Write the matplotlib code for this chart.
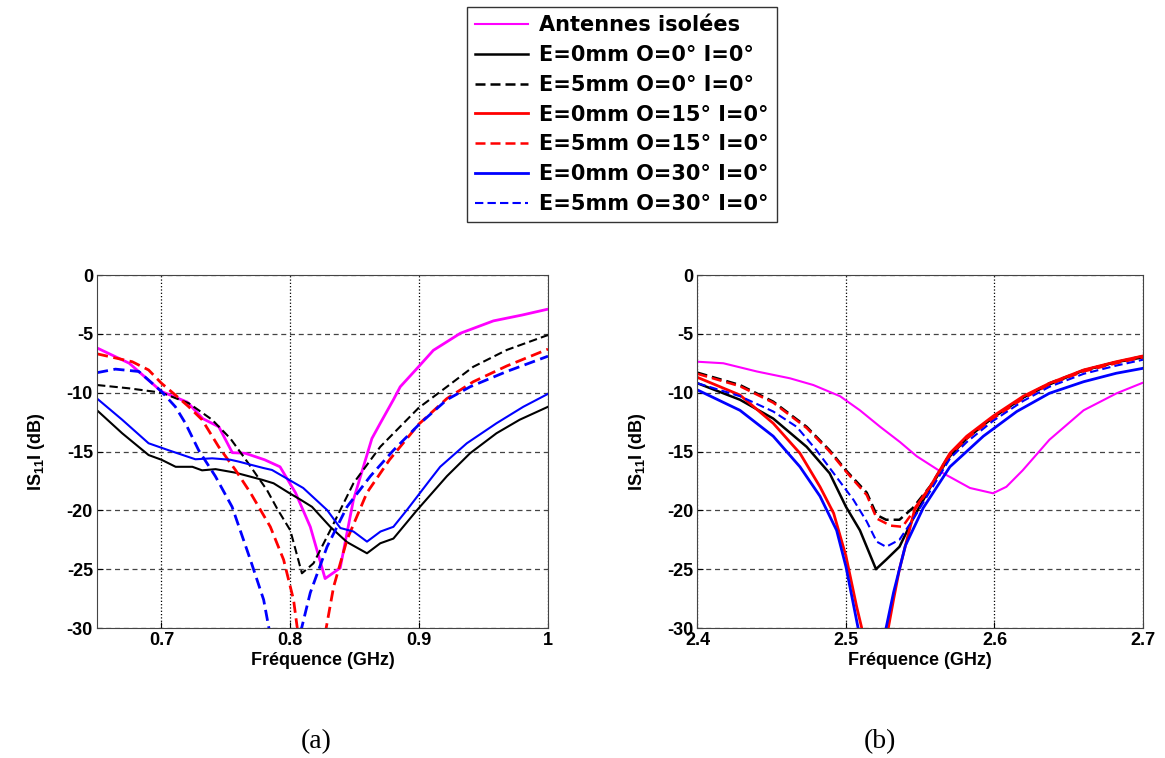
import matplotlib
matplotlib.use("Agg")
import matplotlib.pyplot as plt

# polices : texte gras type Arial, légende plus large
plt.rcParams["font.family"] = "Liberation Sans"
plt.rcParams["axes.unicode_minus"] = False
plt.rcParams["mathtext.fontset"] = "custom"
plt.rcParams["mathtext.rm"] = "Liberation Sans:bold"
plt.rcParams["mathtext.bf"] = "Liberation Sans:bold"

labels = ["Antennes isolées", "E=0mm O=0° I=0°", "E=5mm O=0° I=0°",
          "E=0mm O=15° I=0°", "E=5mm O=15° I=0°",
          "E=0mm O=30° I=0°", "E=5mm O=30° I=0°"]

# ---- bande basse (a) ----
iso_a_f = [0.65, 0.675, 0.70, 0.72, 0.732, 0.7445, 0.755, 0.765, 0.78, 0.792, 0.804,
           0.8155, 0.827, 0.8387, 0.849, 0.8633, 0.8698, 0.880, 0.8853, 0.8995, 0.911,
           0.932, 0.9576, 0.98, 1.0]
iso_a = [-6.2, -7.5, -9.9, -10.8, -12.2, -12.9, -15.1, -15.15, -15.7, -16.3, -18.5,
         -21.4, -25.8, -24.9, -19.1, -13.9, -12.6, -10.6, -9.5, -7.8, -6.4,
         -4.95, -3.9, -3.4, -2.9]

e0o0_a_f = [0.65, 0.6695, 0.69, 0.70, 0.711, 0.724, 0.7315, 0.742, 0.7574, 0.778, 0.787,
            0.7987, 0.808, 0.8168, 0.831, 0.844, 0.8595, 0.8698, 0.880, 0.8982, 0.9215,
            0.9395, 0.960, 0.978, 1.0]
e0o0_a = [-11.5, -13.45, -15.3, -15.7, -16.3, -16.3, -16.6, -16.5, -16.8, -17.4, -17.7,
          -18.5, -19.1, -19.7, -21.4, -22.7, -23.65, -22.8, -22.4, -20.0, -17.1,
          -15.15, -13.45, -12.3, -11.2]

e5o0_a_f = [0.65, 0.6747, 0.70, 0.7212, 0.7393, 0.7535, 0.7665, 0.782, 0.790, 0.800, 0.809,
            0.818, 0.831, 0.849, 0.8698, 0.8878, 0.8995, 0.9215, 0.942, 0.968, 1.0]
e5o0_a = [-9.35, -9.63, -10.0, -10.9, -12.3, -13.9, -15.86, -18.3, -19.9, -21.7, -25.35,
          -24.5, -21.7, -17.7, -14.6, -12.6, -11.3, -9.5, -7.8, -6.37, -5.1]

e5o15_a_f = [0.65, 0.6773, 0.69, 0.70, 0.7108, 0.7212, 0.7315, 0.7444, 0.7574, 0.769,
             0.7845, 0.7948, 0.8025, 0.806, 0.812, 0.824, 0.828, 0.8336, 0.844, 0.8595,
             0.877, 0.8995, 0.9215, 0.942, 0.968, 1.0]
e5o15_a = [-6.7, -7.37, -8.07, -9.2, -10.2, -11.2, -12.3, -14.6, -16.57, -18.5,
           -21.4, -24.2, -27.6, -30.5, -33.0, -32.0, -29.9, -26.5, -22.5, -18.5,
           -15.7, -12.7, -10.5, -9.07, -7.73, -6.3]

e0o30_a_f = [0.65, 0.6695, 0.69, 0.7057, 0.7263, 0.7393, 0.7535, 0.760, 0.779, 0.7858,
             0.810, 0.8285, 0.8388, 0.849, 0.8595, 0.870, 0.880, 0.8905, 0.9085, 0.9163,
             0.937, 0.960, 0.9808, 1.0]
e0o30_a = [-10.5, -12.3, -14.3, -14.9, -15.66, -15.58, -15.7, -15.86, -16.4, -16.57,
           -18.1, -19.97, -21.5, -21.8, -22.66, -21.8, -21.4, -19.97, -17.4, -16.3,
           -14.3, -12.6, -11.2, -10.1]

e5o30_a_f = [0.65, 0.6643, 0.6824, 0.70, 0.7108, 0.7186, 0.7289, 0.7418, 0.7548, 0.769,
             0.7793, 0.7832, 0.79, 0.80, 0.809, 0.8155, 0.8285, 0.844, 0.8621, 0.880,
             0.9008, 0.9215, 0.9395, 0.968, 1.0]
e5o30_a = [-8.3, -8.0, -8.2, -9.9, -11.2, -12.6, -14.9, -17.1, -19.7, -24.2,
           -27.6, -29.9, -33.0, -33.0, -29.9, -27.0, -23.1, -19.7, -17.1, -14.9,
           -12.6, -10.6, -9.5, -8.2, -6.9]

# ---- bande haute (b) ----
iso_b_f = [2.4, 2.4174, 2.44, 2.4623, 2.478, 2.496, 2.5094, 2.523, 2.5364, 2.5476,
           2.5655, 2.5835, 2.599, 2.608, 2.619, 2.637, 2.66, 2.6823, 2.70]
iso_b = [-7.37, -7.5, -8.2, -8.78, -9.35, -10.3, -11.5, -12.9, -14.2, -15.4,
         -16.85, -18.1, -18.55, -18.0, -16.6, -14.0, -11.5, -10.05, -9.15]

e0o0_b_f = [2.4, 2.4286, 2.451, 2.4735, 2.489, 2.5, 2.5094, 2.5202, 2.527, 2.536, 2.546,
            2.557, 2.570, 2.5813, 2.599, 2.6194, 2.637, 2.66, 2.682, 2.70]
e0o0_b = [-9.2, -10.6, -12.2, -14.6, -16.85, -19.7, -21.7, -25.0, -24.2, -23.1, -20.5,
          -18.0, -15.4, -13.9, -12.1, -10.4, -9.3, -8.1, -7.4, -7.0]

e5o0_b_f = [2.4, 2.4286, 2.451, 2.4735, 2.489, 2.5, 2.514, 2.5207, 2.527, 2.536, 2.545,
            2.557, 2.570, 2.5813, 2.599, 2.6194, 2.637, 2.66, 2.682, 2.70]
e5o0_b = [-8.3, -9.35, -10.76, -12.9, -14.9, -16.6, -18.5, -20.4, -20.8, -20.8, -19.8,
          -17.9, -15.2, -13.8, -12.1, -10.4, -9.2, -8.1, -7.4, -6.9]

e0o15_b_f = [2.4, 2.4286, 2.451, 2.469, 2.4825, 2.4917, 2.5, 2.5072, 2.5106, 2.515, 2.524,
             2.5285, 2.532, 2.536, 2.5465, 2.5566, 2.570, 2.5813, 2.599, 2.6194, 2.637,
             2.66, 2.682, 2.70]
e0o15_b = [-8.7, -10.2, -12.6, -15.15, -18.0, -20.25, -23.9, -28.2, -30.0, -32.0, -32.0,
           -30.0, -27.6, -25.0, -19.8, -18.0, -15.15, -13.7, -12.0, -10.3, -9.2,
           -8.07, -7.37, -6.88]

e5o15_b_f = [2.4, 2.4286, 2.451, 2.4735, 2.489, 2.5, 2.514, 2.5207, 2.53, 2.538, 2.546,
             2.557, 2.570, 2.5813, 2.599, 2.6194, 2.637, 2.66, 2.682, 2.70]
e5o15_b = [-8.4, -9.45, -10.85, -13.0, -15.0, -16.7, -18.7, -20.7, -21.3, -21.4, -20.0,
           -18.0, -15.3, -13.9, -12.2, -10.5, -9.3, -8.2, -7.5, -7.0]

e0o30_b_f = [2.4, 2.4286, 2.451, 2.469, 2.4825, 2.4937, 2.5, 2.508, 2.512, 2.52, 2.527,
             2.532, 2.540, 2.552, 2.570, 2.5925, 2.615, 2.637, 2.66, 2.682, 2.70]
e0o30_b = [-9.77, -11.5, -13.7, -16.3, -18.8, -21.7, -24.8, -29.9, -32.0, -32.0, -30.0,
           -27.0, -23.0, -19.8, -16.3, -13.7, -11.6, -10.05, -9.07, -8.35, -7.93]

e5o30_b_f = [2.4, 2.4286, 2.451, 2.4668, 2.48, 2.4917, 2.505, 2.514, 2.5207, 2.527, 2.536,
             2.546, 2.557, 2.570, 2.5813, 2.599, 2.6194, 2.637, 2.66, 2.682, 2.70]
e5o30_b = [-9.2, -10.3, -11.6, -12.9, -14.87, -16.85, -19.1, -20.96, -22.66, -23.1, -22.5,
           -20.6, -18.3, -15.6, -14.2, -12.4, -10.7, -9.5, -8.4, -7.7, -7.2]

dash = (4, 2)

fig = plt.figure(figsize=(11.65, 7.58), dpi=100)
ax1 = fig.add_axes([0.0833, 0.1715, 0.3871, 0.4657])
ax2 = fig.add_axes([0.5987, 0.1715, 0.3824, 0.4657])

# courbes (a)
ax1.plot(iso_a_f, iso_a, color="magenta", lw=2)
ax1.plot(e0o0_a_f, e0o0_a, color="black", lw=1.5)
ax1.plot(e5o0_a_f, e5o0_a, color="black", lw=1.5, ls="--", dashes=dash)
ax1.plot(e5o15_a_f, e5o15_a, color="red", lw=2, ls="--", dashes=dash)
ax1.plot(e0o30_a_f, e0o30_a, color="blue", lw=1.5)
ax1.plot(e5o30_a_f, e5o30_a, color="blue", lw=2, ls="--", dashes=dash)

# courbes (b)
ax2.plot(iso_b_f, iso_b, color="magenta", lw=1.5, label=labels[0])
ax2.plot(e0o0_b_f, e0o0_b, color="black", lw=1.8, label=labels[1])
ax2.plot(e5o0_b_f, e5o0_b, color="black", lw=1.8, ls="--", dashes=dash, label=labels[2])
ax2.plot(e0o15_b_f, e0o15_b, color="red", lw=2, label=labels[3])
ax2.plot(e5o15_b_f, e5o15_b, color="red", lw=1.8, ls="--", dashes=dash, label=labels[4])
ax2.plot(e0o30_b_f, e0o30_b, color="blue", lw=2, label=labels[5])
ax2.plot(e5o30_b_f, e5o30_b, color="blue", lw=1.5, ls="--", dashes=dash, label=labels[6])

ax1.set_xlim(0.65, 1.0)
ax1.set_xticks([0.7, 0.8, 0.9, 1.0])
ax1.set_xticklabels(["0.7", "0.8", "0.9", "1"])
ax2.set_xlim(2.4, 2.7)
ax2.set_xticks([2.4, 2.5, 2.6, 2.7])
ax2.set_xticklabels(["2.4", "2.5", "2.6", "2.7"])

for ax in (ax1, ax2):
    ax.set_ylim(-30, 0)
    ax.set_yticks([0, -5, -10, -15, -20, -25, -30])
    ax.xaxis.grid(True, ls=":", color="black", lw=0.9)
    ax.yaxis.grid(True, ls=(0, (4, 3)), color="#444444", lw=0.9)
    ax.tick_params(direction="in", length=4, labelsize=13, pad=3)
    for t in ax.get_xticklabels() + ax.get_yticklabels():
        t.set_fontweight("bold")
    for s in ax.spines.values():
        s.set_color("#444444")
    ax.set_xlabel("Fréquence (GHz)", fontsize=13, fontweight="bold", labelpad=2)
    ax.set_ylabel(r"IS$_{\mathbf{11}}$I (dB)", fontsize=13, fontweight="bold", labelpad=14)

# légende commune en haut
fig.legend(loc="upper left", bbox_to_anchor=(467 / 1165, 1 - 7 / 758), borderaxespad=0,
           prop={"family": "DejaVu Sans", "weight": "bold", "size": 15},
           frameon=True, fancybox=False, edgecolor="#333333", framealpha=1,
           handlelength=2.55, handletextpad=0.5, labelspacing=0.47, borderpad=0.4)

fig.text(316 / 1165, 1 - 742 / 758, "(a)", family="Liberation Serif", fontsize=20,
         ha="center", va="center")
fig.text(880 / 1165, 1 - 742 / 758, "(b)", family="Liberation Serif", fontsize=20,
         ha="center", va="center")

fig.savefig("out.png", dpi=100)
